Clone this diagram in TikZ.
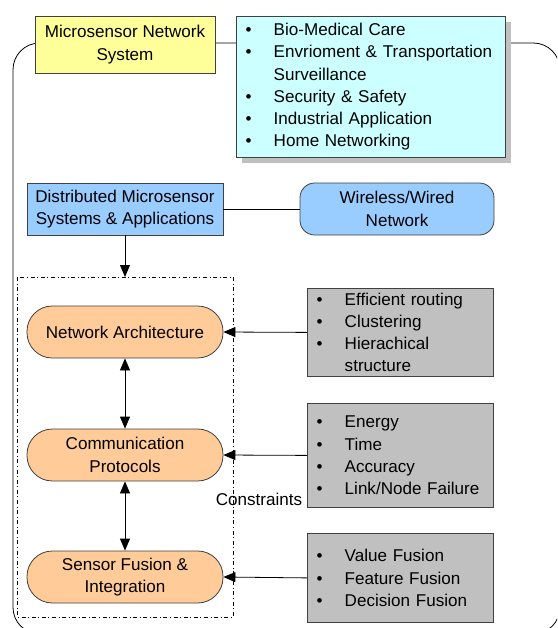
\documentclass[tikz,border=0pt]{standalone}
\usepackage{fontspec}
\setmainfont{Liberation Sans}
\usepackage{tikz}
\usetikzlibrary{arrows.meta,shadows}

\definecolor{yelbox}{RGB}{255,255,153}
\definecolor{cyanbox}{RGB}{204,255,255}
\definecolor{bluebox}{RGB}{153,204,255}
\definecolor{orgbox}{RGB}{255,204,153}
\definecolor{graybox}{RGB}{192,192,192}
\definecolor{rimcol}{RGB}{64,64,64}

\newcommand{\bl}{\makebox[21pt][l]{\textbullet}}
\newcommand{\nobl}{\hspace*{21pt}}

\tikzset{
  every node/.style={font=\fontsize{12.8}{16.7}\selectfont},
  plainbox/.style={draw=rimcol,line width=0.6pt,align=center,inner sep=2pt},
  pill/.style={plainbox,fill=orgbox,rounded corners=19pt,minimum width=147pt,minimum height=39pt},
  listbox/.style={draw=rimcol,line width=0.6pt,align=left,anchor=north west,inner xsep=7pt,inner ysep=0pt},
}

\begin{document}
\begin{tikzpicture}[x=0.75pt,y=-0.75pt,>={Triangle[length=9pt,width=7.5pt]},line width=0.6pt]
	\clip (0,0) rectangle (557,628);
	%cadre exterieur
	\draw[rounded corners=20] (13,43) rectangle (560,634);
	%cadre du groupe
	\draw[dash dot,line width=0.4pt] (17,277) rectangle (233,617);
	%haut
	\node[plainbox,fill=yelbox,minimum width=135pt,minimum height=42.75pt] (mns) at (125,44.5) {Microsensor Network\\System};
	\node[listbox,fill=cyanbox,text width=187.75pt,minimum height=105.75pt,
	      drop shadow={shadow xshift=4pt,shadow yshift=-4pt,opacity=1,fill=graybox}] (apps) at (236,16)
	  {\bl Bio-Medical Care\\ \bl Envrioment \& Transportation\\ \nobl Surveillance\\ \bl Security \& Safety\\ \bl Industrial Application\\ \bl Home Networking};
	%milieu
	\node[plainbox,fill=bluebox,minimum width=147pt,minimum height=39pt] (dist) at (125,209) {Distributed Microsensor\\Systems \& Applications};
	\node[plainbox,fill=bluebox,rounded corners=11pt,minimum width=145.5pt,minimum height=39pt] (wire) at (397,209) {Wireless/Wired\\Network};
	\draw (dist) -- (wire);
	\coordinate (grp) at (125,277);
	\draw[->] (dist) -- (grp);
	%couches
	\node[pill] (arch) at (125,332) {Network Architecture};
	\node[pill] (comm) at (125,455) {Communication\\Protocols};
	\node[pill] (fuse) at (125,577) {Sensor Fusion \&\\Integration};
	\draw[<->] (arch) -- (comm);
	\draw[<->] (comm) -- (fuse);
	%listes grises
	\node[listbox,fill=graybox,text width=125.5pt,minimum height=66pt] (rout) at (307,288)
	  {\bl Efficient routing\\ \bl Clustering\\ \bl Hierachical\\ \nobl structure};
	\node[listbox,fill=graybox,text width=125.5pt,minimum height=78pt] (cons) at (307,403)
	  {\bl Energy\\ \bl Time\\ \bl Accuracy\\ \bl Link/Node Failure};
	\node[listbox,fill=graybox,text width=125.5pt,minimum height=66.75pt] (fus) at (307,533)
	  {\bl Value Fusion\\ \bl Feature Fusion\\ \bl Decision Fusion};
	\draw[->] (rout.west) -- (arch.east);
	\draw[->] (cons.west) -- (comm.east);
	\draw[->] (fus.west) -- (fuse.east);
	\node[inner sep=0pt] (lbl) at (259,499) {Constraints};
\end{tikzpicture}
\end{document}
